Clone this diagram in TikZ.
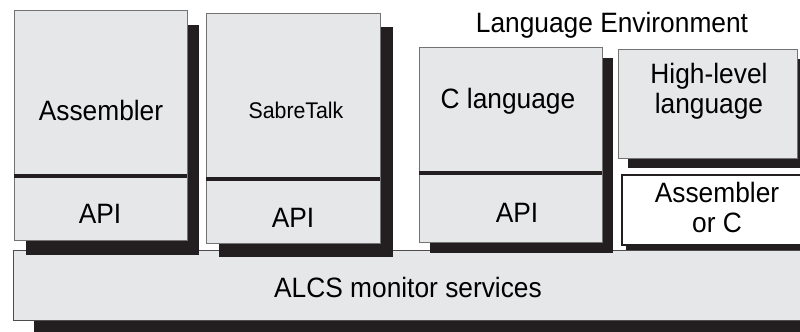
\documentclass[tikz,border=0pt]{standalone}
\usepackage{fontspec}
\setmainfont{Liberation Sans}[FakeStretch=0.94]
\usetikzlibrary{shadows}
\definecolor{layerfill}{RGB}{230,231,233}
\definecolor{layeredge}{RGB}{115,115,115}
\definecolor{layershadow}{RGB}{35,31,32}
\tikzset{
	layer/.style={draw=layeredge, line width=0.7pt, fill=layerfill,
		anchor=north west, inner sep=0pt, outer sep=0pt},
	shade at/.style 2 args={drop shadow={shadow xshift=#1, shadow yshift=#2,
		fill=layershadow, opacity=1}},
	divider/.style={draw=layershadow, line width=3.4pt},
	boxtext/.style={inner sep=0pt, font=\fontsize{21}{22.5}\selectfont},
	twoline/.style={boxtext, align=center}
}
\begin{document}
\begin{tikzpicture}[x=0.75pt, y=-0.75pt]
	\useasboundingbox (0,0) rectangle (800,332);
	% bottom layer
	\node[layer, draw=layershadow!80, shade at={15.75pt}{-11.25pt}, minimum width=597.75pt, minimum height=52.5pt]
		(monitor) at (13,250) {};
	% language stacks
	\node[layer, shade at={9pt}{-11.25pt}, minimum width=129.75pt, minimum height=172.5pt]
		(asm) at (14,10) {};
	\node[layer, shade at={9.75pt}{-10.5pt}, minimum width=130.5pt, minimum height=172.5pt]
		(sabre) at (206,13) {};
	\node[layer, shade at={8.25pt}{-8.25pt}, minimum width=137.25pt, minimum height=146.25pt]
		(clang) at (419,47) {};
	\node[layer, shade at={7.5pt}{-7.5pt}, minimum width=134.25pt, minimum height=81.75pt]
		(hll) at (618,49) {};
	\node[layer, fill=white, draw=layershadow, line width=1.5pt, shade at={3pt}{-3.75pt},
		minimum width=144.75pt, minimum height=52.5pt]
		(asmc) at (622,175) {};
	% API dividers
	\draw[divider] ([yshift=48pt]asm.south west) -- ([yshift=48pt]asm.south east);
	\draw[divider] ([yshift=48pt]sabre.south west) -- ([yshift=48pt]sabre.south east);
	\draw[divider] ([yshift=51.75pt]clang.south west) -- ([yshift=51.75pt]clang.south east);
	% texts
	\node[boxtext, anchor=base] (envtitle) at (612,32) {Language Environment};
	\node[boxtext, anchor=base] (asmtxt) at (101,120) {Assembler};
	\node[boxtext, anchor=base, font=\fontsize{17}{20}\selectfont] (sabretxt) at (296,118) {SabreTalk};
	\node[boxtext, anchor=base] (asmapi) at (100,223) {API};
	\node[boxtext, anchor=base] (sabreapi) at (293,227) {API};
	\node[boxtext, anchor=base] (clangtxt) at (508,108) {C language};
	\node[boxtext, anchor=base] (clangapi) at (517,222) {API};
	\node[twoline] (hlltxt) at (709,91) {High-level\\language};
	\node[twoline] (asmctxt) at (717,207) {Assembler\\or C};
	\node[boxtext, anchor=base] (monitortxt) at (408,297) {ALCS monitor services};
\end{tikzpicture}
\end{document}
